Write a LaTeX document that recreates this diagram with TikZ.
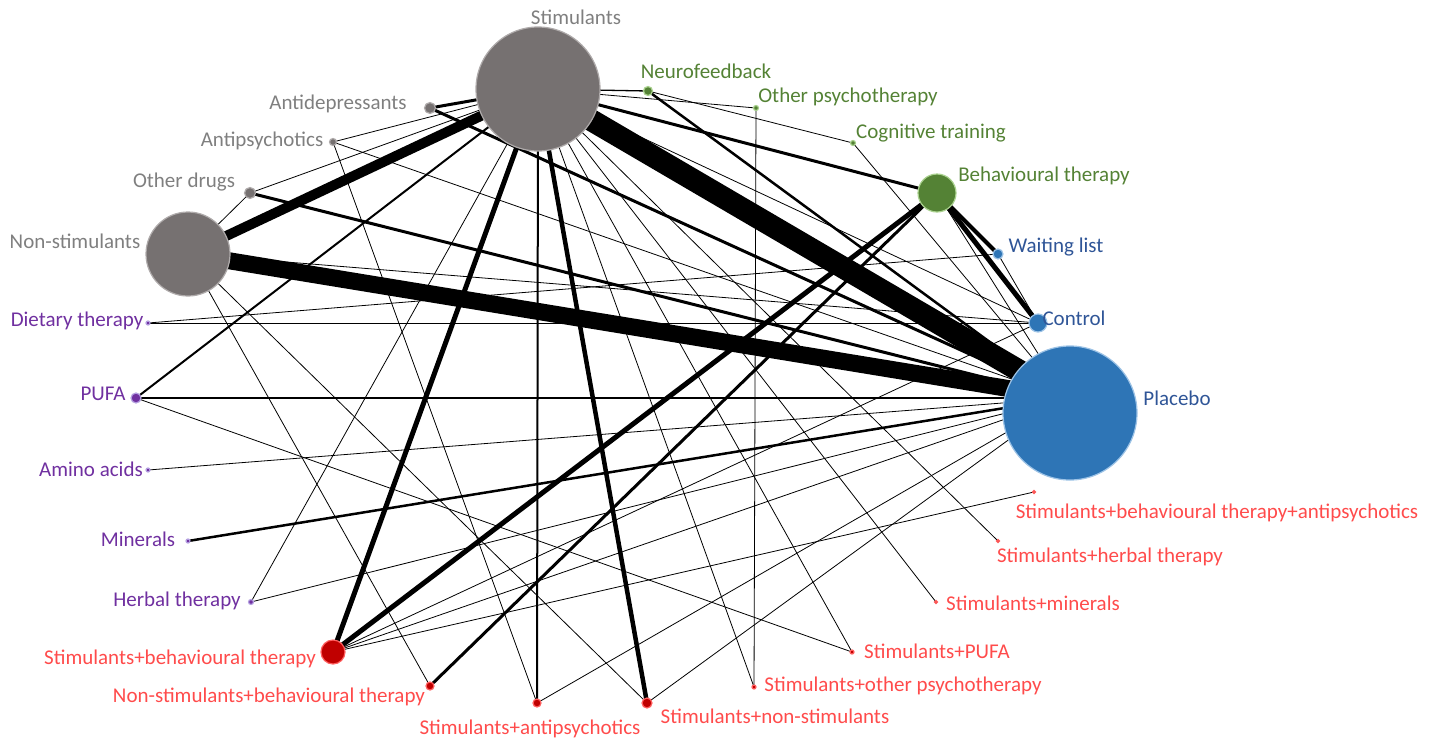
\documentclass[tikz,border=0pt]{standalone}
\usepackage{fontspec}
\setmainfont{Carlito}
\usetikzlibrary{backgrounds}
\definecolor{grayfill}{HTML}{767171}
\definecolor{grayring}{HTML}{AFABAB}
\definecolor{graytext}{HTML}{7F7F7F}
\definecolor{greenfill}{HTML}{548235}
\definecolor{greenring}{HTML}{A9D18E}
\definecolor{greentext}{HTML}{548235}
\definecolor{bluefill}{HTML}{2E75B6}
\definecolor{bluering}{HTML}{9DC3E6}
\definecolor{bluetext}{HTML}{2F5597}
\definecolor{purplefill}{HTML}{7030A0}
\definecolor{purplering}{HTML}{B4A0E0}
\definecolor{purpletext}{HTML}{7030A0}
\definecolor{redfill}{HTML}{C00000}
\definecolor{redring}{HTML}{FF6060}
\definecolor{redtext}{HTML}{FF4B4B}
\begin{document}
\begin{tikzpicture}[x=1pt,y=-1pt,
    nd/.style={circle,inner sep=0pt,minimum size=#1pt,line width=1.2pt},
    gnd/.style={nd=#1,fill=grayfill,draw=grayring},
    vnd/.style={nd=#1,fill=greenfill,draw=greenring},
    bnd/.style={nd=#1,fill=bluefill,draw=bluering},
    pnd/.style={nd=#1,fill=purplefill,draw=purplering},
    rnd/.style={nd=#1,fill=redfill,draw=redring},
    lbl/.style={inner sep=0pt,font=\fontsize{21}{25}\selectfont},
    edge/.style={line width=#1pt,black},
    edge/.default=0.8]
    \useasboundingbox (0,0) rectangle (1435,740);

    % 薬物療法
    \node[gnd=124] (stim) at (538,89) {};
    \node[gnd=84] (nonstim) at (188,254) {};
    \node[gnd=11] (antidep) at (430,108) {};
    \node[gnd=7] (antipsy) at (333,142) {};
    \node[gnd=11] (otherdrug) at (250,193) {};

    % 心理療法
    \node[vnd=9] (neuro) at (648,91) {};
    \node[vnd=5] (otherpsy) at (756,108) {};
    \node[vnd=5] (cogn) at (853,143) {};
    \node[vnd=38] (behav) at (937,193) {};

    % 対照群
    \node[bnd=10] (wait) at (998,254) {};
    \node[bnd=18] (ctrl) at (1038,323) {};
    \node[bnd=134] (plac) at (1070,413) {};
    \coordinate (placx) at (1066,398);

    % 補完療法
    \node[pnd=4] (diet) at (148,323) {};
    \node[pnd=10] (pufa) at (136,398) {};
    \node[pnd=4] (amino) at (148,470) {};
    \node[pnd=4] (miner) at (188,541) {};
    \node[pnd=5] (herb) at (251,602) {};

    % 併用療法
    \node[rnd=24] (sbehav) at (333,652) {};
    \node[rnd=8] (nbehav) at (430,686) {};
    \node[rnd=8] (santi) at (537,703) {};
    \node[rnd=10] (snon) at (647,703) {};
    \node[rnd=4] (sother) at (754,687) {};
    \node[rnd=4] (spufa) at (852,652) {};
    \node[rnd=3] (sminer) at (936,602) {};
    \node[rnd=3] (sherb) at (998,541) {};
    \node[rnd=3] (sbap) at (1034,492) {};

    % ラベル
    \node[lbl,text=graytext] (tstim) at (576,17) {Stimulants};
    \node[lbl,text=graytext] (tnonstim) at (75,241) {Non-stimulants};
    \node[lbl,text=graytext] (tantidep) at (338,104) {Antidepressants};
    \node[lbl,text=graytext] (tantipsy) at (262,141) {Antipsychotics};
    \node[lbl,text=graytext] (totherdrug) at (184,182) {Other drugs};
    \node[lbl,text=greentext] (tneuro) at (706,71) {Neurofeedback};
    \node[lbl,text=greentext] (totherpsy) at (848,97) {Other psychotherapy};
    \node[lbl,text=greentext] (tcogn) at (931,133) {Cognitive training};
    \node[lbl,text=greentext] (tbehav) at (1044,176) {Behavioural therapy};
    \node[lbl,text=bluetext] (twait) at (1056,247) {Waiting list};
    \node[lbl,text=bluetext] (tctrl) at (1074,318) {Control};
    \node[lbl,text=bluetext] (tplac) at (1177,398) {Placebo};
    \node[lbl,text=purpletext] (tdiet) at (77,321) {Dietary therapy};
    \node[lbl,text=purpletext] (tpufa) at (103,394) {PUFA};
    \node[lbl,text=purpletext] (tamino) at (91,469) {Amino acids};
    \node[lbl,text=purpletext] (tminer) at (138,539) {Minerals};
    \node[lbl,text=purpletext] (therb) at (177,601) {Herbal therapy};
    \node[lbl,text=redtext] (tsbehav) at (180,659) {Stimulants+behavioural therapy};
    \node[lbl,text=redtext] (tnbehav) at (269,697) {Non-stimulants+behavioural therapy};
    \node[lbl,text=redtext] (tsanti) at (530,729) {Stimulants+antipsychotics};
    \node[lbl,text=redtext] (tsnon) at (775,716) {Stimulants+non-stimulants};
    \node[lbl,text=redtext] (tsother) at (903,686) {Stimulants+other psychotherapy};
    \node[lbl,text=redtext] (tspufa) at (937,651) {Stimulants+PUFA};
    \node[lbl,text=redtext] (tsminer) at (1033,603) {Stimulants+minerals};
    \node[lbl,text=redtext] (tsherb) at (1110,557) {Stimulants+herbal therapy};
    \node[lbl,text=redtext] (tsbap) at (1217,513) {Stimulants+behavioural therapy+antipsychotics};

    % 比較の線
    \begin{pgfonlayer}{background}
    \draw[edge=22] (stim.center) -- (placx);
    \draw[edge=17] (nonstim.center) -- (placx);
    \draw[edge=10] (stim.center) -- (nonstim.center);
    \draw[edge=3] (stim.center) -- (antidep.center);
    \draw[edge=3] (antidep.center) -- (placx);
    \draw[edge] (stim.center) -- (antipsy.center);
    \draw[edge] (antipsy.center) -- (placx);
    \draw[edge] (antipsy.center) -- (santi.center);
    \draw[edge] (stim.center) -- (otherdrug.center);
    \draw[edge] (otherdrug.center) -- (nonstim.center);
    \draw[edge=3] (otherdrug.center) -- (placx);
    \draw[edge] (nonstim.center) -- (nbehav.center);
    \draw[edge] (nonstim.center) -- (snon.center);
    \draw[edge] (nonstim.center) -- (ctrl.center);
    \draw[edge=1.3] (stim.center) -- (neuro.center);
    \draw[edge] (stim.center) -- (otherpsy.center);
    \draw[edge=3] (stim.center) -- (behav.center);
    \draw[edge] (stim.center) -- (ctrl.center);
    \draw[edge] (neuro.center) -- (cogn.center);
    \draw[edge=2.5] (neuro.center) -- (placx);
    \draw[edge] (cogn.center) -- (placx);
    \draw[edge] (otherpsy.center) -- (sother.center);
    \draw[edge=4] (behav.center) -- (wait.center);
    \draw[edge=5] (behav.center) -- (ctrl.center);
    \draw[edge] (behav.center) -- (placx);
    \draw[edge=5] (behav.center) -- (sbehav.center);
    \draw[edge=3] (behav.center) -- (nbehav.center);
    \draw[edge] (wait.center) -- (ctrl.center);
    \draw[edge] (diet.center) -- (ctrl.center);
    \draw[edge] (diet.center) -- (wait.center);
    \draw[edge=2] (pufa.center) -- (stim.center);
    \draw[edge=2.5] (pufa.center) -- (placx);
    \draw[edge] (pufa.center) -- (spufa.center);
    \draw[edge] (amino.center) -- (placx);
    \draw[edge=2.5] (miner.center) -- (placx);
    \draw[edge] (herb.center) -- (stim.center);
    \draw[edge] (herb.center) -- (placx);
    \draw[edge=5] (sbehav.center) -- (stim.center);
    \draw[edge] (sbehav.center) -- (ctrl.center);
    \draw[edge] (sbehav.center) -- (placx);
    \draw[edge] (sbehav.center) -- (sbap.center);
    \draw[edge=2] (santi.center) -- (stim.center);
    \draw[edge] (santi.center) -- (placx);
    \draw[edge=4.5] (snon.center) -- (stim.center);
    \draw[edge] (snon.center) -- (placx);
    \draw[edge] (sother.center) -- (stim.center);
    \draw[edge] (spufa.center) -- (stim.center);
    \draw[edge] (sminer.center) -- (stim.center);
    \draw[edge] (sherb.center) -- (stim.center);
    \end{pgfonlayer}
\end{tikzpicture}
\end{document}
